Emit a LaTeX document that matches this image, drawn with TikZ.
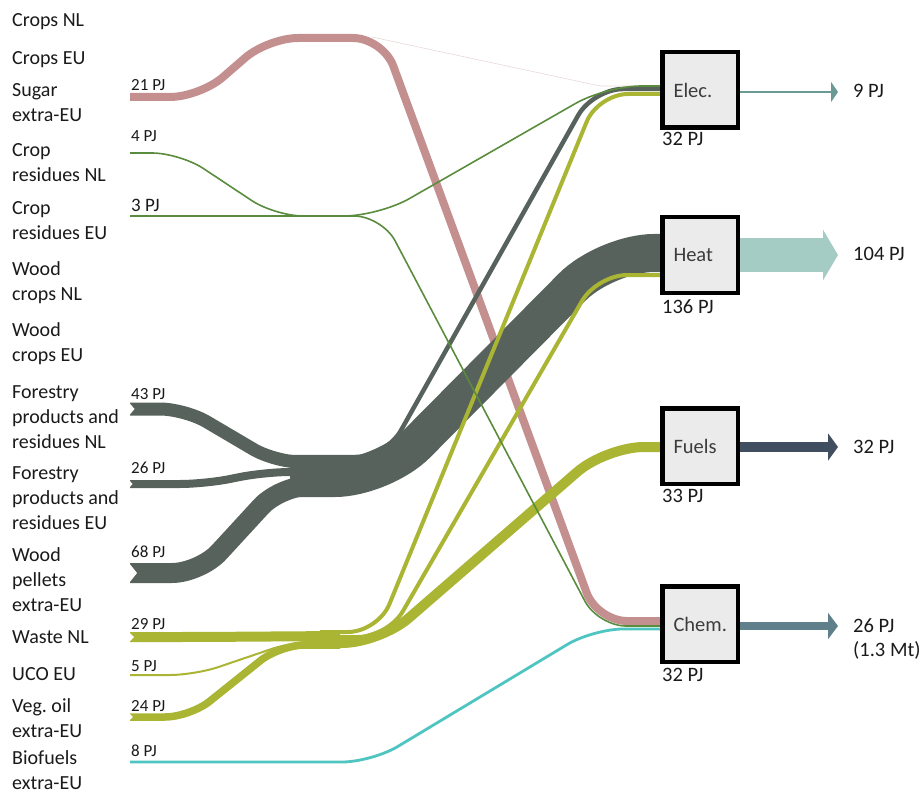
\documentclass[tikz,border=0pt]{standalone}
\usepackage{fontspec}
\setmainfont{Carlito}
\usetikzlibrary{arrows.meta}
\definecolor{pinkf}{HTML}{C4908F}
\definecolor{greenf}{HTML}{5A8C3E}
\definecolor{greyf}{HTML}{58625C}
\definecolor{yellowf}{HTML}{A9B533}
\definecolor{cyanf}{HTML}{4EC5C1}
\definecolor{elecout}{HTML}{6B9994}
\definecolor{heatout}{HTML}{A4CBC4}
\definecolor{fuelsout}{HTML}{404E5F}
\definecolor{chemout}{HTML}{5F7F8A}
\definecolor{boxg}{HTML}{EBEBEB}
\definecolor{txt}{HTML}{1A1A1A}
\begin{document}
\frenchspacing
\begin{tikzpicture}[x=1pt,y=-1pt,
  lab/.style={anchor=base west, inner sep=0pt, align=left, text=txt, font=\fontsize{20}{25}\selectfont},
  val/.style={anchor=base west, inner sep=0pt, text=txt, font=\fontsize{17}{20}\selectfont},
  rval/.style={anchor=base west, inner sep=0pt, align=left, text=txt, font=\fontsize{20.5}{24.5}\selectfont},
  box/.style={draw=black, line width=4.5pt, fill=boxg, minimum size=75.5pt, inner sep=0pt, text width=53pt, align=left, text=txt!85, font=\fontsize{20.5}{25}\selectfont},
  band/.style={line cap=butt, rounded corners=#1},
  band/.default=30pt,
  notch/.style={fill=white, draw=none}]
\useasboundingbox (0,0) rectangle (920,794);

% ---------- left labels (anchored at the baseline of their last line) ----------
\node[lab] (cropsnl) at (12,27) {Crops NL};
\node[lab] (cropseu) at (12,65) {Crops EU};
\node[lab] (sugar) at (12,122) {Sugar\\extra-EU};
\node[lab] (crnl) at (12,182) {Crop\\residues NL};
\node[lab] (creu) at (12,240) {Crop\\residues EU};
\node[lab] (wcnl) at (12,300) {Wood\\crops NL};
\node[lab] (wceu) at (12,361) {Wood\\crops EU};
\node[lab] (fpnl) at (12,448) {Forestry\\products and\\residues NL};
\node[lab] (fpeu) at (12,529) {Forestry\\products and\\residues EU};
\node[lab] (wpel) at (12,611) {Wood\\pellets\\extra-EU};
\node[lab] (wastenl) at (12,643) {Waste NL};
\node[lab] (ucoeu) at (12,680) {UCO EU};
\node[lab] (vego) at (12,737) {Veg. oil\\extra-EU};
\node[lab] (biof) at (12,789) {Biofuels\\extra-EU};

% ---------- value labels ----------
\node[val] (v21) at (131,90.5) {21 PJ};
\node[val] (v4) at (131,142) {4 PJ};
\node[val, font=\fontsize{19}{21}\selectfont] (v3) at (131,212) {3 PJ};
\node[val] (v43) at (131,399.5) {43 PJ};
\node[val] (v26) at (131,473) {26 PJ};
\node[val] (v68) at (131,557.5) {68 PJ};
\node[val] (v29) at (131,629.5) {29 PJ};
\node[val] (v5) at (131,671.5) {5 PJ};
\node[val] (v24) at (131,711.5) {24 PJ};
\node[val] (v8) at (131,756.5) {8 PJ};

% ---------- start coordinates ----------
\coordinate (sSugar) at (130,97);
\coordinate (sCRNL) at (130,153);
\coordinate (sCREU) at (130,216);
\coordinate (sFPNL) at (130,409);
\coordinate (sFPEU) at (130,484);
\coordinate (sWP) at (130,573);
\coordinate (sWaste) at (130,637);
\coordinate (sUCO) at (130,675);
\coordinate (sVeg) at (130,717);
\coordinate (sBio) at (130,762);

% ---------- flows ----------
% sugar
\draw[pinkf!35, line width=0.6pt] (372,37) -- (600,86) -- (662,86);
\draw[pinkf, line width=8pt, band] (sSugar) -- (200,97) -- (268,38) -- (383,38) -- (597,621) -- (662,621);

% wood (dark grey)
\draw[greyf, line width=13pt, band=25pt] (sFPNL) -- (185,409) -- (275,462) -- (312,462);
\draw[greyf, line width=8pt, band=25pt] (sFPEU) -- (205,484) -- (265,472) -- (312,472);
\draw[greyf, line width=20pt, band=28pt] (sWP) -- (200,573) -- (280,486) -- (312,486);
\draw[greyf, line width=38pt, band=48pt] (290,478) -- (383,478) -- (606,253) -- (662,253);
\draw[greyf, line width=4.5pt, band=30pt] (290,457) -- (386,457) -- (593,89) -- (662,89);

% yellow
\draw[yellowf, line width=10pt, band=25pt] (sWaste) -- (200,637) -- (340,636);
\draw[yellowf, line width=2pt, band=25pt] (sUCO) -- (195,675) -- (295,641) -- (340,641);
\draw[yellowf, line width=7.5pt, band=25pt] (sVeg) -- (190,717) -- (280,645) -- (340,645);
\draw[yellowf, line width=4pt, band=30pt] (320,632) -- (378,632) -- (598,94) -- (662,94);
\draw[yellowf, line width=4pt, band=30pt] (320,637) -- (388,637) -- (597,275) -- (662,275);
\draw[yellowf, line width=10pt, band=38pt] (320,643) -- (380,643) -- (606,447) -- (662,447);

% green (crop residues)
\draw[greenf, line width=1.6pt, band=28pt] (sCRNL) -- (180,153) -- (275,216) -- (382,216) -- (598,626) -- (662,626);
\draw[greenf, line width=1.6pt, band=35pt] (sCREU) -- (379,216) -- (606,86) -- (662,86);

% cyan (biofuels)
\draw[cyanf, line width=2.8pt, band=30pt] (sBio) -- (372,762) -- (593,629) -- (662,629);

% notches at band tails
\fill[notch] (129,402.5) -- (134.5,409) -- (129,415.5) -- cycle;
\fill[notch] (129,480) -- (132.5,484) -- (129,488) -- cycle;
\fill[notch] (129,563) -- (137,573) -- (129,583) -- cycle;
\fill[notch] (129,632) -- (134,637) -- (129,642) -- cycle;
\fill[notch] (129,713.25) -- (133,717) -- (129,720.75) -- cycle;

% ---------- boxes ----------
\node[box] (elec) at (700,90) {Elec.};
\node[box] (heat) at (700,255) {Heat};
\node[box] (fuels) at (700,446) {Fuels};
\node[box] (chem) at (700,624) {Chem.};

\node[rval] (e32) at (662,146) {32 PJ};
\node[rval] (h136) at (662,313) {136 PJ};
\node[rval] (f33) at (662,502) {33 PJ};
\node[rval] (c32) at (662,681) {32 PJ};

% ---------- outputs ----------
\coordinate (eT) at (838,92);
\coordinate (hT) at (838,255);
\coordinate (fT) at (838,447);
\coordinate (cT) at (838,626);
\draw[elecout, line width=2pt, -{Triangle[length=7pt,width=20pt]}] (elec.east |- eT) -- (eT);
\draw[heatout, line width=34pt, -{Triangle[length=15pt,width=50pt]}] (heat.east |- hT) -- (hT);
\draw[fuelsout, line width=10pt, -{Triangle[length=10pt,width=27pt]}] (fuels.east |- fT) -- (fT);
\draw[chemout, line width=8pt, -{Triangle[length=10pt,width=26pt]}] (chem.east |- cT) -- (cT);

\node[rval] (o9) at (853,98) {9 PJ};
\node[rval] (o104) at (853,261) {104 PJ};
\node[rval] (o32) at (853,453) {32 PJ};
\node[rval] (o26) at (853,656.5) {26 PJ\\(1.3 Mt)};
\end{tikzpicture}
\end{document}
